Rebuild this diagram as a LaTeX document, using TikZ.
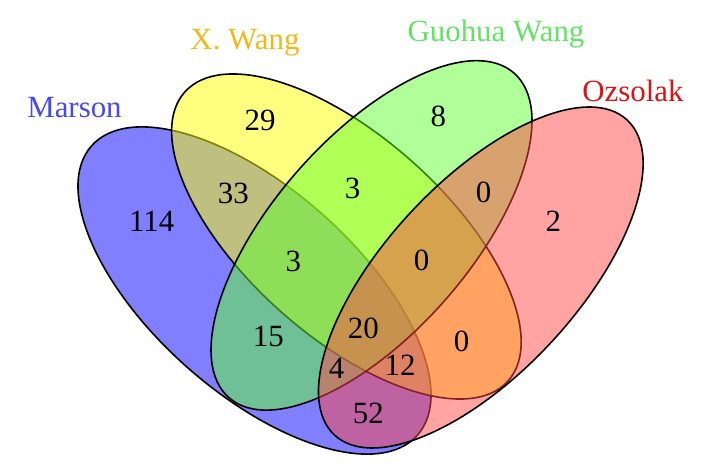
\documentclass[tikz,border=0pt]{standalone}
\usepackage{fontspec}
\setmainfont{Liberation Serif}
\usetikzlibrary{shapes.geometric}
\definecolor{fillA}{RGB}{0,0,255}
\definecolor{fillB}{RGB}{255,255,0}
\definecolor{fillC}{RGB}{97,255,49}
\definecolor{fillD}{RGB}{255,71,71}
\definecolor{textA}{RGB}{72,72,236}
\definecolor{textB}{RGB}{242,184,24}
\definecolor{textC}{RGB}{98,228,98}
\definecolor{textD}{RGB}{222,18,18}
\tikzset{
  setshape/.style={ellipse, draw=black, line width=1.6bp, fill opacity=0.5,
                   inner sep=0pt, outer sep=0pt},
  num/.style={font=\fontsize{31}{31}\selectfont, inner sep=0pt, text=black},
  lab/.style={font=\fontsize{31}{31}\selectfont, inner sep=0pt, anchor=base},
}
\begin{document}
\begin{tikzpicture}[x=1bp, y=-1bp]
  \useasboundingbox (0,0) rectangle (705,476);
  % the four sets
  \node[setshape, fill=fillA, minimum width=435.8bp, minimum height=204.2bp, rotate=-41.6] (marson) at (254.5,290.5) {};
  \node[setshape, fill=fillB, minimum width=433.6bp, minimum height=199.4bp, rotate=-41.8] (xwang) at (346.4,236.5) {};
  \node[setshape, fill=fillC, minimum width=432bp, minimum height=196bp, rotate=48.7] (gwang) at (371.5,235.4) {};
  \node[setshape, fill=fillD, minimum width=430bp, minimum height=191.4bp, rotate=47.1] (ozsolak) at (480.8,277.5) {};
  % set names
  \node[lab, text=textA] (labA) at (74.5,118) {Marson};
  \node[lab, text=textB] (labB) at (245,50) {X. Wang};
  \node[lab, text=textC] (labC) at (496,42) {Guohua Wang};
  \node[lab, text=textD] (labD) at (633,102) {Ozsolak};
  % counts
  \node[num] (nA)    at (151.7,221.7) {114};
  \node[num] (nB)    at (260,120) {29};
  \node[num] (nC)    at (438.3,116.7) {8};
  \node[num] (nD)    at (553.3,221.7) {2};
  \node[num] (nAB)   at (233.3,193.3) {33};
  \node[num] (nBC)   at (352.5,188) {3};
  \node[num] (nCD)   at (483.5,192) {0};
  \node[num] (nABC)  at (293.3,261.7) {3};
  \node[num] (nBCD)  at (421.7,260) {0};
  \node[num] (nAC)   at (268.3,336.7) {15};
  \node[num] (nABCD) at (363.3,328.3) {20};
  \node[num] (nBD)   at (461.7,341.7) {0};
  \node[num] (nABD)  at (336.7,368.3) {4};
  \node[num] (nACD)  at (400,365) {12};
  \node[num] (nAD)   at (368.3,413.3) {52};
\end{tikzpicture}
\end{document}
